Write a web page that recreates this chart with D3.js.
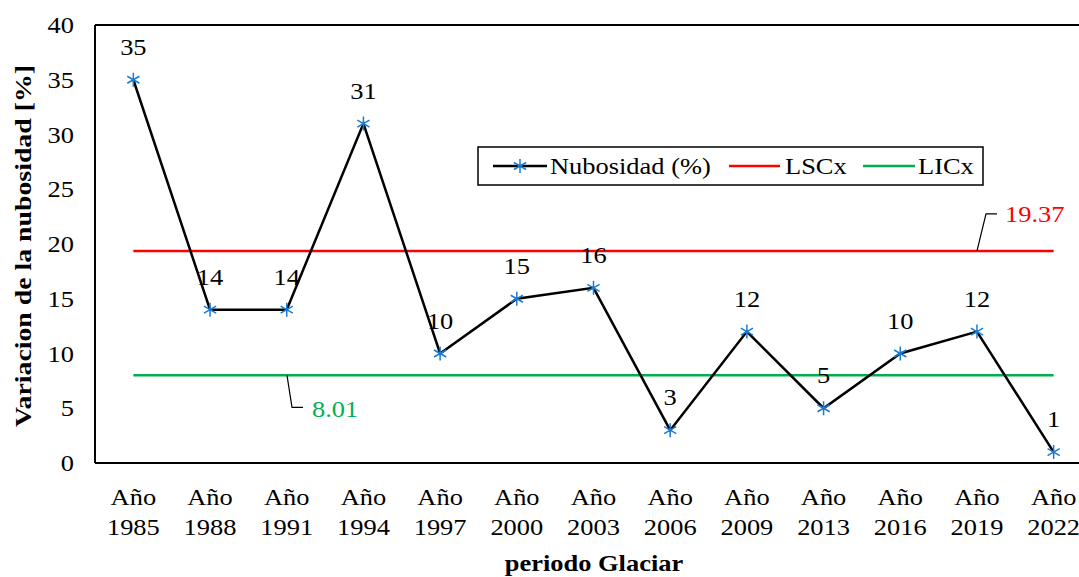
<!DOCTYPE html>
<html><head><meta charset="utf-8">
<script src="https://cdn.jsdelivr.net/npm/d3@7"></script>
<style>body{margin:0;background:#fff;} svg{display:block;} text{font-family:"Liberation Serif",Tinos,"Times New Roman",Times,"DejaVu Serif",serif;}</style>
</head><body>
<svg id="c" width="1079" height="577"></svg>
<script>
const categories = ["1985","1988","1991","1994","1997","2000","2003","2006","2009","2013","2016","2019","2022"];
const nubosidad = [35,14,14,31,10,15,16,3,12,5,10,12,1];
const lsc = 19.37;
const lic = 8.01;
const yTicks = [0,5,10,15,20,25,30,35,40];

(function(){
const svg = d3.select("#c");
const SX = 1.15, FS = 23;
const pL = 95, pT = 25, pB = 463, pR = 1092;
const x = d3.scaleBand().domain(categories).range([pL, pR]);
const y = d3.scaleLinear().domain([0, 40]).range([pB, pT]);
const cx = d => x(d) + x.bandwidth()/2;

// stretched text helper
function txt(g, tx, ty, s, anchor, fill, weight) {
  return g.append("text").attr("transform", `translate(${tx},${ty}) scale(${SX},1)`)
    .attr("text-anchor", anchor || "start").attr("font-size", FS)
    .attr("fill", fill || "#000").attr("font-weight", weight || "normal").text(s);
}

// frame
svg.append("line").attr("x1", pL).attr("x2", pR).attr("y1", pT).attr("y2", pT).attr("stroke","#000").attr("stroke-width",2);
svg.append("line").attr("x1", pL).attr("x2", pL).attr("y1", pT).attr("y2", pB).attr("stroke","#000").attr("stroke-width",2);
svg.append("line").attr("x1", pL).attr("x2", pR).attr("y1", pB).attr("y2", pB).attr("stroke","#000").attr("stroke-width",2);

// y tick labels
const gy = svg.append("g");
yTicks.forEach(t => txt(gy, 74, y(t) + 8, t, "end"));

// x labels
const gx = svg.append("g");
categories.forEach(c => { txt(gx, cx(c), 505, "Año", "middle"); txt(gx, cx(c), 535, c, "middle"); });

// axis titles
txt(svg, 594, 571, "periodo Glaciar", "middle", "#000", "bold");
svg.append("text").attr("transform","translate(31,246) rotate(-90)").attr("text-anchor","middle")
  .attr("font-size",FS).attr("font-weight","bold")
  .attr("textLength",362).attr("lengthAdjust","spacingAndGlyphs")
  .text("Variacion de la nubosidad [%]");

// control lines
const x0 = cx(categories[0]), x1 = cx(categories[categories.length-1]);
svg.append("line").attr("x1", x0).attr("x2", x1).attr("y1", y(lsc)).attr("y2", y(lsc)).attr("stroke","#FF0000").attr("stroke-width",2.5);
svg.append("line").attr("x1", x0).attr("x2", x1).attr("y1", y(lic)).attr("y2", y(lic)).attr("stroke","#00B050").attr("stroke-width",2.5);

// main line
const line = d3.line().x((d,i) => cx(categories[i])).y(d => y(d));
svg.append("path").datum(nubosidad).attr("d", line).attr("fill","none").attr("stroke","#000").attr("stroke-width",2.5);

// markers
function star(g, px, py, s) {
  const p = `M${px},${py-s}L${px},${py+s}M${px-s*0.87},${py-s*0.5}L${px+s*0.87},${py+s*0.5}M${px-s*0.87},${py+s*0.5}L${px+s*0.87},${py-s*0.5}`;
  g.append("path").attr("d", p).attr("stroke","#1B7BCF").attr("stroke-width",1.5).attr("fill","none");
}
const mg = svg.append("g");
nubosidad.forEach((v,i) => star(mg, cx(categories[i]), y(v), 7));

// data labels
const gl = svg.append("g");
nubosidad.forEach((v,i) => txt(gl, cx(categories[i]), y(v) - 25, v, "middle"));

// leader labels
const ax = 977;
svg.append("path").attr("d", `M${ax},${y(lsc)}L${ax+9},${y(lsc)-37}H${ax+20}`).attr("stroke","#000").attr("stroke-width",1.2).attr("fill","none");
txt(svg, 1005, y(lsc) - 37 + 8, lsc.toFixed(2), "start", "#FF0000");
const bx = 287;
svg.append("path").attr("d", `M${bx},${y(lic)}L${bx+5},${y(lic)+32}H${bx+16}`).attr("stroke","#000").attr("stroke-width",1.2).attr("fill","none");
txt(svg, 312, y(lic) + 34 + 8, lic.toFixed(2), "start", "#00B050");

// legend
const lg = svg.append("g");
lg.append("rect").attr("x",478).attr("y",147).attr("width",505).attr("height",38).attr("fill","#fff").attr("stroke","#000").attr("stroke-width",1.5);
const ly = 166;
lg.append("line").attr("x1",493).attr("x2",547).attr("y1",ly).attr("y2",ly).attr("stroke","#000").attr("stroke-width",2.5);
star(lg, 520, ly, 7);
txt(lg, 550, ly + 8, "Nubosidad (%)");
lg.append("line").attr("x1",729).attr("x2",780).attr("y1",ly).attr("y2",ly).attr("stroke","#FF0000").attr("stroke-width",2.5);
txt(lg, 785, ly + 8, "LSCx");
lg.append("line").attr("x1",863).attr("x2",915).attr("y1",ly).attr("y2",ly).attr("stroke","#00B050").attr("stroke-width",2.5);
txt(lg, 918, ly + 8, "LICx");
})();
</script>
</body></html>
